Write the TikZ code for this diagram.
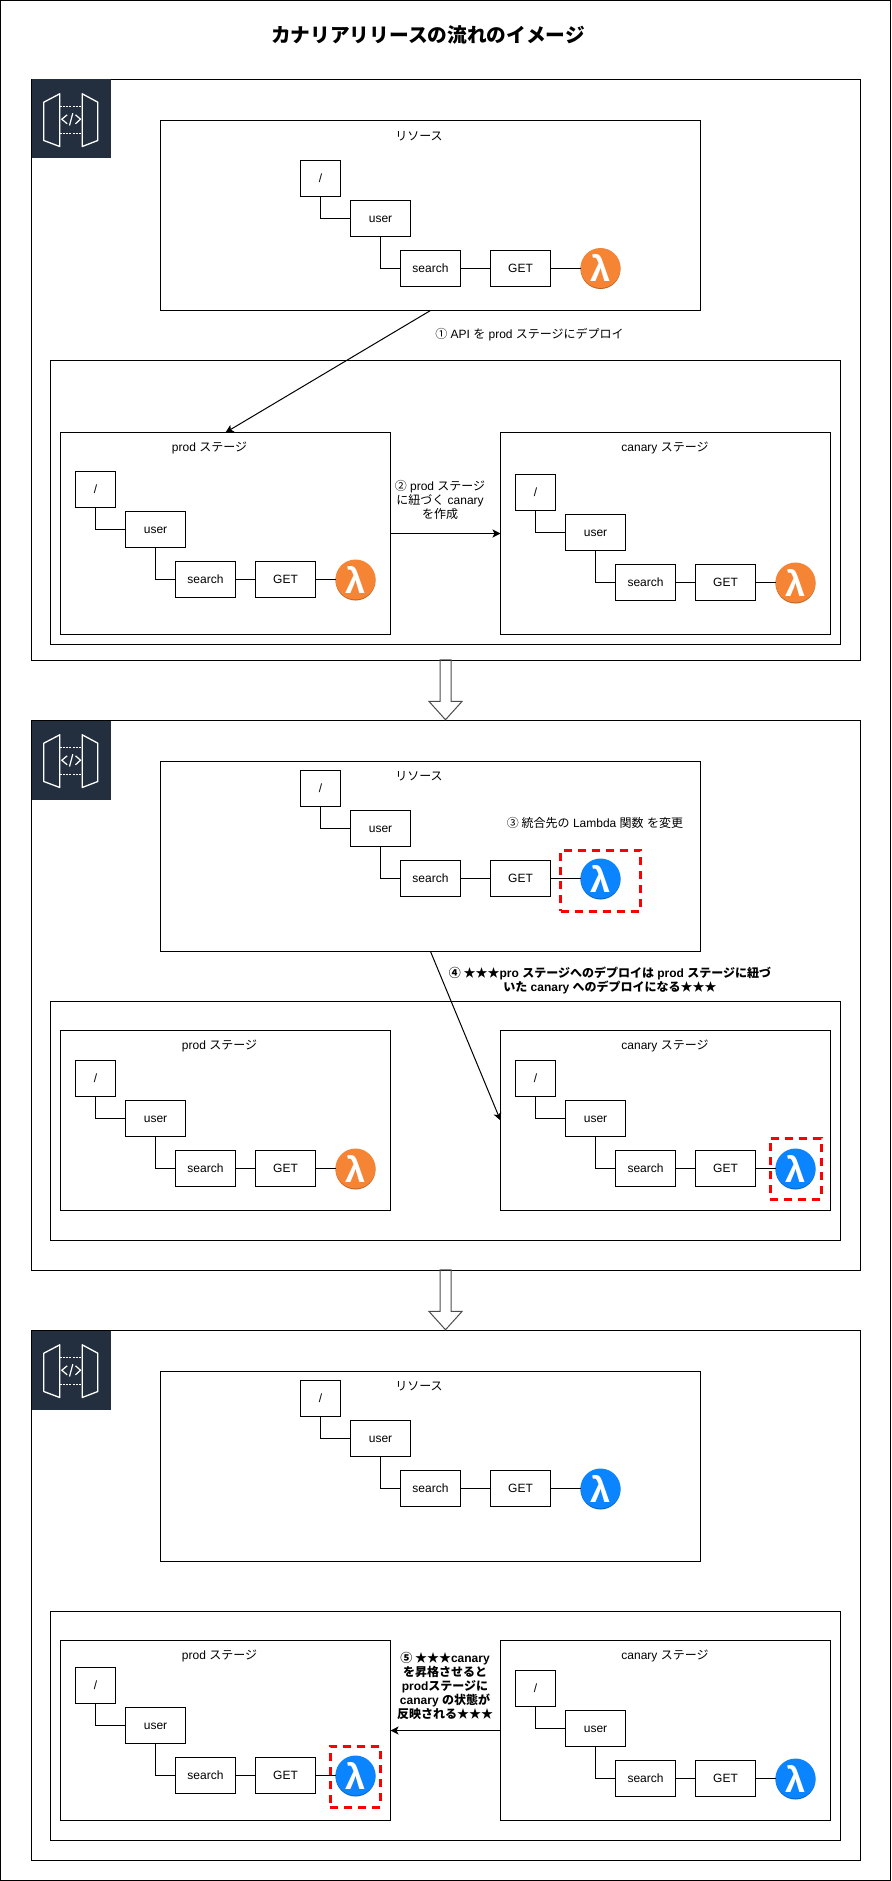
\documentclass[tikz,border=0pt]{standalone}
\usepackage{fontspec}
\setmainfont{Liberation Sans}
\newfontfamily\jp{Noto Sans CJK JP}
\usetikzlibrary{arrows, arrows.meta}
\usetikzlibrary{shapes.arrows}
\definecolor{gatebg}{HTML}{232F3E}
\definecolor{lamorange}{HTML}{F58534}
\definecolor{lamblue}{HTML}{0A84FF}
\tikzset{
  framebox/.style={rectangle, draw, line width=1pt, inner sep=0pt, outer sep=0pt},
  resbox/.style={framebox, fill=white, minimum width=60pt, minimum height=36pt, text height=8.6pt, text depth=0pt, font=\fontsize{12}{14}\selectfont},
  rootbox/.style={resbox, minimum width=40pt},
  lamfn/.style={circle, inner sep=0pt, outer sep=0pt, minimum size=40pt, text=white, font=\fontsize{36}{36}\selectfont\bfseries, fill=#1,
    preaction={fill=#1!75!black, transform canvas={yshift=-1pt}}},
  lamold/.style={lamfn=lamorange},
  lamnew/.style={lamfn=lamblue},
  markbox/.style={rectangle, draw=red, line width=3pt, dash pattern=on 8pt off 6pt, inner sep=0pt, outer sep=0pt},
  txt/.style={inner sep=0pt, align=center, font=\fontsize{12}{14.3}\selectfont},
  btxt/.style={txt, font=\fontsize{12}{14}\selectfont\bfseries},
  flow/.style={line width=1pt, -{Stealth[length=8pt, width=8pt, inset=2pt]}},
  link/.style={line width=1pt},
  blockarrow/.style={shape=single arrow, draw=black!70, line width=1pt, rotate=-90, anchor=tip, inner xsep=0pt, inner ysep=5pt, minimum height=60pt, minimum width=32pt, single arrow head extend=11pt, single arrow tip angle=84, single arrow head indent=0pt},
  gateicon/.pic={
    \fill[gatebg] (0,0) rectangle (79,79);
    \draw[white, line width=1.3pt, line join=round] (12.3,22.7) -- (28.3,14.3) -- (28.3,67) -- (12.3,61) -- cycle;
    \draw[white, line width=1.3pt, line join=round] (50.7,14.3) -- (66.3,22.7) -- (66.3,61) -- (50.7,67) -- cycle;
    \draw[white, line width=1.5pt, dash pattern=on 2pt off 1.2pt] (28.3,27) -- (50.7,27);
    \draw[white, line width=1.5pt, dash pattern=on 2pt off 1.2pt] (28.3,54) -- (50.7,54);
    \draw[white, line width=1.2pt] (35.7,35.3) -- (30.3,39.7) -- (35.7,44.3);
    \draw[white, line width=1.2pt] (41.3,33.7) -- (38,46);
    \draw[white, line width=1.2pt] (44,35.3) -- (49,39.7) -- (44,44.3);
  }
}
\begin{document}
\begin{tikzpicture}[x=1pt, y=-1pt]
  \useasboundingbox (0,0) rectangle (891,1881);
  \node[framebox, minimum width=890pt, minimum height=1880pt] (page) at (445.5,940.5) {};
  \node[inner sep=0pt, font=\fontsize{19.7}{24}\selectfont\bfseries\jp] (title) at (428,34.5) {カナリアリリースの流れのイメージ};

  \node[framebox, minimum width=829pt, minimum height=580.5pt] (panel1) at (445.5,369.75) {};
  \node[framebox, minimum width=829pt, minimum height=550pt] (panel2) at (445.5,995.5) {};
  \node[framebox, minimum width=829pt, minimum height=530pt] (panel3) at (445.5,1595.5) {};
  \pic at (31.5,79.5) {gateicon};
  \pic at (31.5,720.5) {gateicon};
  \pic at (31.5,1330.5) {gateicon};
  \node[blockarrow] (down1) at (445.5,720.5) {};
  \node[blockarrow] (down2) at (445.5,1330.5) {};

  \node[framebox, minimum width=539.5pt, minimum height=190pt] (res1) at (430.5,215.5) {};
  \node[framebox, minimum width=790pt, minimum height=284pt] (stages1) at (445.5,502.5) {};
  \node[framebox, minimum width=330pt, minimum height=202pt] (prod1) at (225.5,533.5) {};
  \node[framebox, minimum width=330pt, minimum height=202pt] (canary1) at (665.5,533.5) {};
  \node[txt] (reslabel1) at (419,136) {{\jp リソース}};
  \node[txt] (prodlabel1) at (209.5,448) {prod {\jp ステージ}};
  \node[txt] (canarylabel1) at (665,448) {canary {\jp ステージ}};
  \node[txt] (step1) at (529.5,335) {{\jp ①} API {\jp を} prod {\jp ステージにデプロイ}};
  \node[txt] (step2) at (440,500) {{\jp ②} prod {\jp ステージ}\\{\jp に紐づく} canary\\{\jp を作成}};

  \node[rootbox] (r1a) at (320.5,178.5) {/};
  \node[resbox] (r1b) at (380.5,218.5) {user};
  \node[resbox] (r1c) at (430.5,268) {search};
  \node[resbox] (r1d) at (520.5,268) {GET};
  \node[lamold] (r1e) at (600.5,268) {λ};
  \draw[link] (r1a) |- (r1b);
  \draw[link] (r1b) |- (r1c);
  \draw[link] (r1c) -- (r1d) -- (r1e);

  \node[rootbox] (p1a) at (95.5,489.5) {/};
  \node[resbox] (p1b) at (155.5,529) {user};
  \node[resbox] (p1c) at (205.5,579.5) {search};
  \node[resbox] (p1d) at (285.5,579.5) {GET};
  \node[lamold] (p1e) at (355.5,579.5) {λ};
  \draw[link] (p1a) |- (p1b);
  \draw[link] (p1b) |- (p1c);
  \draw[link] (p1c) -- (p1d) -- (p1e);

  \node[rootbox] (c1a) at (535.5,492.5) {/};
  \node[resbox] (c1b) at (595.5,532.5) {user};
  \node[resbox] (c1c) at (645.5,582.5) {search};
  \node[resbox] (c1d) at (725.5,582.5) {GET};
  \node[lamold] (c1e) at (795.5,582.5) {λ};
  \draw[link] (c1a) |- (c1b);
  \draw[link] (c1b) |- (c1c);
  \draw[link] (c1c) -- (c1d) -- (c1e);

  \draw[flow] (res1.south) -- (prod1.north);
  \draw[flow] (prod1) -- (canary1);

  \node[framebox, minimum width=539.5pt, minimum height=190pt] (res2) at (430.5,856.5) {};
  \node[framebox, minimum width=790pt, minimum height=239pt] (stages2) at (445.5,1121) {};
  \node[framebox, minimum width=330pt, minimum height=180pt] (prod2) at (225.5,1120.5) {};
  \node[framebox, minimum width=330pt, minimum height=180pt] (canary2) at (665.5,1120.5) {};
  \node[txt] (reslabel2) at (419,776.5) {{\jp リソース}};
  \node[txt] (prodlabel2) at (219.5,1046) {prod {\jp ステージ}};
  \node[txt] (canarylabel2) at (665,1046) {canary {\jp ステージ}};
  \node[txt] (step3) at (595,822.5) {{\jp ③ 統合先の} Lambda {\jp 関数} {\jp を変更}};
  \node[btxt] (step4) at (610,980.5) {{\jp ④ ★★★}pro {\jp ステージへのデプロイは} prod {\jp ステージに紐づ}\\{\jp いた} canary {\jp へのデプロイになる★★★}};

  \node[rootbox] (r2a) at (320.5,788.5) {/};
  \node[resbox] (r2b) at (380.5,828.5) {user};
  \node[resbox] (r2c) at (430.5,878.5) {search};
  \node[resbox] (r2d) at (520.5,878.5) {GET};
  \node[lamnew] (r2e) at (600.5,878.5) {λ};
  \draw[link] (r2a) |- (r2b);
  \draw[link] (r2b) |- (r2c);
  \draw[link] (r2c) -- (r2d) -- (r2e);

  \node[rootbox] (p2a) at (95.5,1078.5) {/};
  \node[resbox] (p2b) at (155.5,1118.5) {user};
  \node[resbox] (p2c) at (205.5,1168.5) {search};
  \node[resbox] (p2d) at (285.5,1168.5) {GET};
  \node[lamold] (p2e) at (355.5,1168.5) {λ};
  \draw[link] (p2a) |- (p2b);
  \draw[link] (p2b) |- (p2c);
  \draw[link] (p2c) -- (p2d) -- (p2e);

  \node[rootbox] (c2a) at (535.5,1078.5) {/};
  \node[resbox] (c2b) at (595.5,1118.5) {user};
  \node[resbox] (c2c) at (645.5,1168.5) {search};
  \node[resbox] (c2d) at (725.5,1168.5) {GET};
  \node[lamnew] (c2e) at (795.5,1168.5) {λ};
  \draw[link] (c2a) |- (c2b);
  \draw[link] (c2b) |- (c2c);
  \draw[link] (c2c) -- (c2d) -- (c2e);

  \draw[flow] (res2.south) -- (canary2.west);
  \node[markbox, minimum width=80pt, minimum height=61pt] (mark1) at (600.5,880.5) {};
  \node[markbox, minimum width=51pt, minimum height=61pt] (mark2) at (795.5,1168.5) {};

  \node[framebox, minimum width=539.5pt, minimum height=190pt] (res3) at (430.5,1466.5) {};
  \node[framebox, minimum width=790pt, minimum height=229.5pt] (stages3) at (445.5,1725.75) {};
  \node[framebox, minimum width=330pt, minimum height=180pt] (prod3) at (225.5,1730.5) {};
  \node[framebox, minimum width=330pt, minimum height=180pt] (canary3) at (665.5,1730.5) {};
  \node[txt] (reslabel3) at (419,1386.5) {{\jp リソース}};
  \node[txt] (prodlabel3) at (219.5,1656) {prod {\jp ステージ}};
  \node[txt] (canarylabel3) at (665,1656) {canary {\jp ステージ}};
  \node[btxt] (step5) at (445,1686) {{\jp ⑤ ★★★}canary\\{\jp を昇格させると}\\prod{\jp ステージに}\\canary {\jp の状態が}\\{\jp 反映される★★★}};

  \node[rootbox] (r3a) at (320.5,1398.5) {/};
  \node[resbox] (r3b) at (380.5,1438.5) {user};
  \node[resbox] (r3c) at (430.5,1488.5) {search};
  \node[resbox] (r3d) at (520.5,1488.5) {GET};
  \node[lamnew] (r3e) at (600.5,1488.5) {λ};
  \draw[link] (r3a) |- (r3b);
  \draw[link] (r3b) |- (r3c);
  \draw[link] (r3c) -- (r3d) -- (r3e);

  \node[rootbox] (p3a) at (95.5,1685.5) {/};
  \node[resbox] (p3b) at (155.5,1725.5) {user};
  \node[resbox] (p3c) at (205.5,1775.5) {search};
  \node[resbox] (p3d) at (285.5,1775.5) {GET};
  \node[lamnew] (p3e) at (355.5,1775.5) {λ};
  \draw[link] (p3a) |- (p3b);
  \draw[link] (p3b) |- (p3c);
  \draw[link] (p3c) -- (p3d) -- (p3e);

  \node[rootbox] (c3a) at (535.5,1688.5) {/};
  \node[resbox] (c3b) at (595.5,1728.5) {user};
  \node[resbox] (c3c) at (645.5,1778.5) {search};
  \node[resbox] (c3d) at (725.5,1778.5) {GET};
  \node[lamnew] (c3e) at (795.5,1778.5) {λ};
  \draw[link] (c3a) |- (c3b);
  \draw[link] (c3b) |- (c3c);
  \draw[link] (c3c) -- (c3d) -- (c3e);

  \draw[flow] (canary3) -- (prod3);
  \node[markbox, minimum width=50pt, minimum height=61pt] (mark3) at (355,1776.5) {};
\end{tikzpicture}
\end{document}
